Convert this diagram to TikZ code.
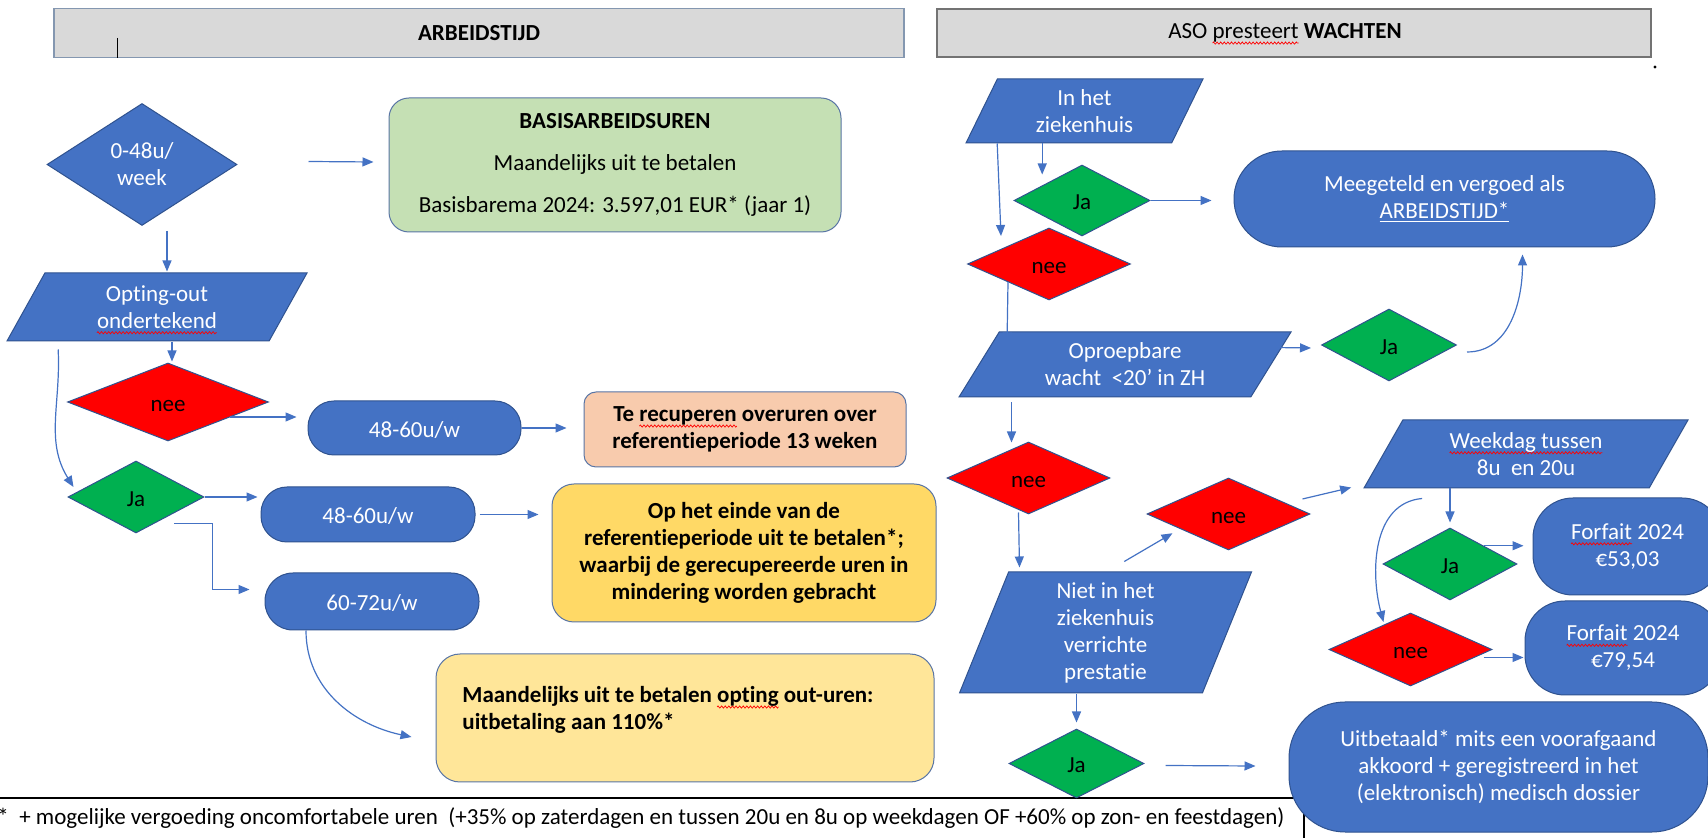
\documentclass[tikz,border=0pt]{standalone}
\usepackage{fontspec}
\setmainfont{Carlito}[Ligatures={TeX,NoCommon}]
\usetikzlibrary{shapes.geometric,arrows.meta,calc,decorations.pathmorphing}
\definecolor{zhBlue}{HTML}{4472C4}
\definecolor{zhRim}{HTML}{2F528F}
\definecolor{zhRed}{HTML}{FF0000}
\definecolor{zhGreen}{HTML}{00B050}
\definecolor{zhMint}{HTML}{C5E0B4}
\definecolor{zhPeach}{HTML}{F8CBAD}
\definecolor{zhGold}{HTML}{FFD966}
\definecolor{zhSand}{HTML}{FFE699}
\definecolor{zhHead}{HTML}{D9D9D9}
\definecolor{zhSlate}{HTML}{8497B0}
\newsavebox\spellbox
\newcommand\spell[1]{\sbox\spellbox{#1}\leavevmode\hbox{\tikz[overlay, x=1pt, y=1pt, sharp corners]
  \draw[red, line width=0.35pt, decorate, decoration={zigzag, segment length=1.8pt, amplitude=0.55pt}]
  (0,-2.2) -- (\the\wd\spellbox,-2.2);\usebox\spellbox}}

\begin{document}
\begin{tikzpicture}[x=0.5pt, y=-0.5pt,
  every node/.style={font=\fontsize{11.5}{13.5}\selectfont, inner sep=0pt, align=center},
  bold/.style={font=\fontsize{11.5}{13.5}\selectfont\bfseries},
  oneline/.style={text height=11.5pt, text depth=2pt},
  dia/.style={diamond, draw=zhRim, line width=0.5pt, fill=#1},
  lean/.style 2 args={trapezium, trapezium left angle=#1, trapezium right angle=#2,
    trapezium stretches body, draw=zhRim, line width=0.5pt, fill=zhBlue, text=white},
  pill/.style={rectangle, rounded corners=#1, draw=zhRim, line width=0.5pt, fill=zhBlue, text=white},
  card/.style={rectangle, rounded corners=#1, draw=zhRim!80, line width=0.5pt},
  arr/.style={draw=zhBlue, line width=0.6pt, -{Triangle[length=5.5pt, width=4.5pt]}}
]
  \useasboundingbox (0,0) rectangle (1708,838);
  \fill[white] (0,0) rectangle (1708,838);

  \draw[line width=0.6pt] (0,798) -- (1304,798) -- (1304,838);
  \node (Foot) [anchor=west] at (-3,818)
    {*\ \ + mogelijke vergoeding oncomfortabele uren\ \ (+35\% op zaterdagen en tussen 20u en 8u op weekdagen OF +60\% op zon- en feestdagen)};

  \node (HdrL) [rectangle, draw=zhSlate, line width=0.6pt, fill=zhHead,
    minimum width=425pt, minimum height=24.5pt] at (479,33) {\textbf{ARBEIDSTIJD}};
  \node (HdrR) [rectangle, draw=black!55, line width=0.6pt, fill=zhHead,
    minimum width=357pt, minimum height=24pt] at (1294,33) {ASO \spell{presteert} \textbf{WACHTEN}\hspace{9pt}};
  \draw[line width=0.5pt] (117,38) -- (117,58);
  \fill (1655,67) circle (0.8pt);
  \fill[red] (786,143) circle (0.7pt);

  \node (A0) [dia=zhBlue, text=white, minimum width=95pt, minimum height=61pt] at (142,164.5) {0-48u/\\week};
  \node (Basis) [card=10pt, fill=zhMint, minimum width=226pt, minimum height=67pt] at (615,165)
    {\textbf{BASISARBEIDSUREN}\\[7.5pt]Maandelijks uit te betalen\\[7.5pt]Basisbarema 2024: 3.597,01 EUR* (jaar 1)};
  \node (OptOut) [lean={48.6}{131.4}, minimum width=150pt, minimum height=34pt] at (157,307) {Opting-out\\\spell{ondertekend}};
  \node (NeeOpt) [dia=zhRed, oneline, minimum width=100.5pt, minimum height=39pt] at (168,402) {nee};
  \node (JaOpt) [dia=zhGreen, oneline, minimum width=68pt, minimum height=36pt] at (136,497) {Ja};
  \node (Pil48a) [pill=13pt, oneline, minimum width=106.5pt, minimum height=27pt] at (414.5,428) {48-60u/w};
  \node (Recup) [card=6pt, bold, fill=zhPeach, minimum width=161pt, minimum height=37.5pt] at (745,429.5)
    {Te \spell{recuperen} overuren over\\referentieperiode 13 weken};
  \node (Pil48b) [pill=13pt, oneline, minimum width=107pt, minimum height=27.5pt] at (368,514.5) {48-60u/w};
  \node (Pil60) [pill=14pt, oneline, minimum width=107pt, minimum height=28.5pt] at (372,601.5) {60-72u/w};
  \node (RefBox) [card=11pt, bold, fill=zhGold, minimum width=192pt, minimum height=69pt] at (744,553)
    {Op het einde van de\\referentieperiode uit te betalen*;\\waarbij de gerecupereerde uren in\\mindering worden gebracht};
  \node (OptBox) [card=12pt, fill=zhSand, minimum width=249pt, minimum height=64pt] at (685,718) {};
  \node (OptTxt) [bold, anchor=west, align=left] at (462,710)
    {Maandelijks uit te betalen \spell{opting} out-uren:\\uitbetaling aan 110\%*};

  \node (InZH) [lean={54}{126}, minimum width=118.5pt, minimum height=32pt] at (1084.5,111) {In het\\ziekenhuis};
  \node (JaZH) [dia=zhGreen, oneline, minimum width=68pt, minimum height=35.5pt] at (1082,200.5) {Ja};
  \node (Meeg) [pill=24pt, minimum width=210.5pt, minimum height=48pt] at (1444.5,199)
    {Meegeteld en vergoed als\\\underline{ARBEIDSTIJD*}};
  \node (NeeZH) [dia=zhRed, oneline, minimum width=81.5pt, minimum height=36pt] at (1049,264) {nee};
  \node (Oproep) [lean={47}{133}, minimum width=166pt, minimum height=32.5pt] at (1125,364.5)
    {Oproepbare\\wacht\ \ <20’ in ZH};
  \node (JaOpr) [dia=zhGreen, oneline, minimum width=67.5pt, minimum height=36pt] at (1389,345) {Ja};
  \node (NeeOpr) [dia=zhRed, oneline, minimum width=81.5pt, minimum height=36pt] at (1028.5,478) {nee};
  \node (NietZH) [lean={64}{116}, minimum width=146pt, minimum height=60.5pt] at (1105.5,632.5)
    {Niet in het\\ziekenhuis\\verrichte\\prestatie};
  \node (NeeNiet) [dia=zhRed, oneline, minimum width=81.5pt, minimum height=36pt] at (1228.5,514) {nee};
  \node (Weekdag) [lean={48}{132}, minimum width=162pt, minimum height=34pt] at (1526,454)
    {\spell{Weekdag tussen}\\8u\ \ en 20u};
  \node (JaWk) [dia=zhGreen, oneline, minimum width=67pt, minimum height=36pt] at (1450,564) {Ja};
  \node (Forf1) [pill=20pt, minimum width=94.5pt, minimum height=48.5pt] at (1627.5,546.5) {\spell{Forfait} 2024\\€53,03};
  \node (NeeWk) [dia=zhRed, oneline, minimum width=81.5pt, minimum height=36.5pt] at (1410.5,649.5) {nee};
  \node (Forf2) [pill=20pt, minimum width=98pt, minimum height=47pt] at (1623,648) {\spell{Forfait} 2024\\€79,54};
  \node (JaNiet) [dia=zhGreen, oneline, minimum width=67.5pt, minimum height=34.5pt] at (1076.5,763.5) {Ja};
  \node (Uitb) [pill=28pt, minimum width=209.5pt, minimum height=65pt] at (1498.5,767)
    {Uitbetaald* mits een voorafgaand\\akkoord + geregistreerd in het\\(elektronisch) medisch dossier};

  \draw[arr] ($(A0.east)+(71,-3)$) -- ($(Basis.west)+(-15,-3)$);
  \draw[arr] ($(A0.south)+(25,5)$) -- ($(A0.south |- OptOut.north)+(25,-1)$);
  \draw[arr] ($(OptOut.south -| NeeOpt.north)+(4,1)$) -- ($(NeeOpt.north)+(4,-1)$);
  \draw[arr] ($(OptOut.bottom left corner)+(52,8)$) to[out=-87, in=122] ($(JaOpt.west)+(6,-10)$);
  \draw[arr] ($(NeeOpt.east)+(-39,15)$) -- ($(Pil48a.west)+(-11,-11)$);
  \draw[arr] (Pil48a.east) -- ($(Recup.west)+(-17,-1.5)$);
  \draw[arr] (JaOpt.east) -- ($(JaOpt.east -| Pil48b.west)+(-3,0)$);
  \draw[arr]
    ($(JaOpt.south east)+(4,8)$) -| ($(Pil60.west)+(-52,-12)$)
    -- ($(Pil60.west)+(-15,-12)$)
  ;
  \draw[arr] ($(Pil48b.east)+(4,0)$) -- ($(Pil48b.east -| RefBox.west)+(-13,0)$);
  \draw[arr] ($(Pil60.south)+(-66,0)$) to[out=-90, in=168] ($(OptBox.west)+(-24,19)$);

  \draw[arr] ($(InZH.bottom left corner)+(77,0)$) -- ($(InZH.bottom left corner |- JaZH.north)+(77,10)$);
  \draw[arr] ($(InZH.bottom left corner)+(32,0)$) -- ($(NeeZH.west)+(34,-28)$);
  \draw[arr] (JaZH.east) -- ($(JaZH.east -| Meeg.west)+(-22,0)$);
  \draw[arr] (NeeZH.south west) -- ($(NeeZH.south west |- Oproep.north)+(-1,12)$);
  \draw[arr] ($(Oproep.top right corner)+(-18,16)$) -- ($(JaOpr.west)+(-10,3)$);
  \draw[arr] ($(JaOpr.east)+(10,7)$) to[out=0, in=-90] ($(Meeg.south)+(78,7)$);
  \draw[arr] ($(Oproep.south -| NeeOpr.north)+(-17,5)$) -- ($(NeeOpr.north)+(-17,1)$);
  \draw[arr] ($(NeeOpr.south)+(-10,-2)$) -- ($(NeeOpr.south |- NietZH.north)+(-9,-4)$);
  \draw[arr] ($(NietZH.top left corner)+(116,-10)$) -- ($(NeeNiet.south west)+(-15,1)$);
  \draw[arr] ($(NeeNiet.east)+(-8,-15)$) -- ($(Weekdag.bottom left corner)+(-12,-1)$);
  \draw[arr] (Weekdag.south -| JaWk.north) -- ($(JaWk.north)+(0,-5)$);
  \draw[arr] ($(Weekdag.bottom left corner)+(59,10)$) to[out=185, in=105] ($(NeeWk.north west)+(14,-9)$);
  \draw[arr] (JaWk.north east) -- ($(JaWk.north east -| Forf1.west)+(-9,0)$);
  \draw[arr] ($(NeeWk.east)+(-9,8)$) -- ($(NeeWk.east -| Forf2.west)+(-1,8)$);
  \draw[arr] (NietZH.south -| JaNiet.north) -- ($(JaNiet.north)+(0,-6)$);
  \draw[arr] ($(JaNiet.east)+(21,2)$) -- ($(Uitb.west)+(-33,-1)$);
\end{tikzpicture}
\end{document}
